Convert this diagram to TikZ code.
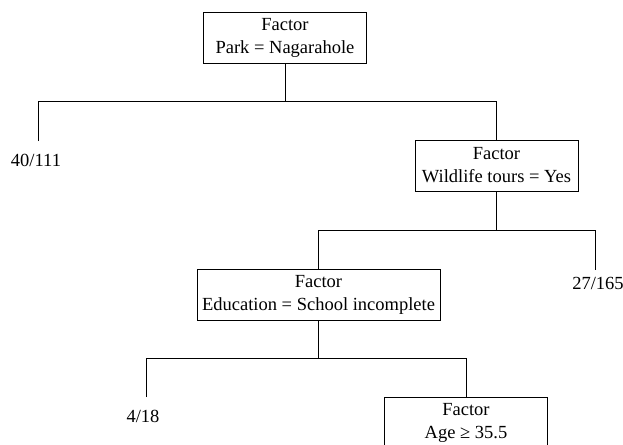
\documentclass[tikz,border=0pt]{standalone}
\usepackage{fontspec}
\setmainfont{Liberation Serif}
\usepackage{tikz}

\begin{document}
\begin{tikzpicture}[x=1pt, y=-1pt,
                    line width=0.8pt,
                    factor/.style={draw, align=center, inner sep=5pt,
                                   minimum width=163pt, minimum height=51pt,
                                   font=\fontsize{18.5}{23}\selectfont},
                    leaf/.style={inner sep=0pt, font=\fontsize{18.5}{23}\selectfont}
                    ]
    \useasboundingbox (0,0) rectangle (623,444);

    \def\Ba{101}   \def\Bb{230.5}   \def\Bc{358}

    \node[factor] (park) at (285,37.5)  {Factor\\Park = Nagarahole};
    \node[factor] (tours) at (496.5,165.5) {Factor\\Wildlife tours = Yes};
    \node[factor] (educ) at (318.5,294.5) {Factor\\Education = School incomplete};
    \node[factor] (age) at (466,422.5) {Factor\\Age ≥ 35.5};

    \node[leaf] (nA) at (36,160)    {40/111};
    \node[leaf] (nB) at (598,283)   {27/165};
    \node[leaf] (nC) at (143,416.5) {4/18};

    \coordinate (eA) at (38,141);
    \coordinate (eB) at (595,270);
    \coordinate (eC) at (146,397);

    \draw (park.south) -- (park.south |- 0,\Ba);
    \draw (eA) -- (eA |- 0,\Ba) -- (tours.north |- 0,\Ba) -- (tours.north);

    \draw (tours.south) -- (tours.south |- 0,\Bb);
    \draw (educ.north) -- (educ.north |- 0,\Bb) -- (eB |- 0,\Bb) -- (eB);

    \draw (educ.south) -- (educ.south |- 0,\Bc);
    \draw (eC) -- (eC |- 0,\Bc) -- (age.north |- 0,\Bc) -- (age.north);
\end{tikzpicture}
\end{document}
